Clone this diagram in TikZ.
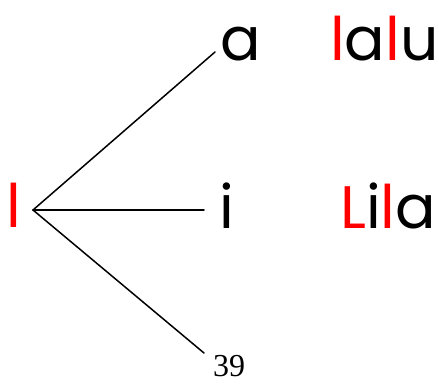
\documentclass[tikz,border=0pt]{standalone}
\usepackage{fontspec}
\setmainfont{Poppins}
\newfontfamily\numfont{Liberation Serif}
\begin{document}
\begin{tikzpicture}[x=1pt, y=-1pt, cap=round,
  word/.style={inner sep=0pt, anchor=base west, font=\fontsize{60}{60}\selectfont},
  num/.style={inner sep=0pt, text depth=0pt, anchor=base west, font=\numfont\fontsize{32}{32}\selectfont}]
\useasboundingbox (0,0) rectangle (439,383);
% Gốc cây
\node[word, text=red] (root) at (6,227) {l};
\coordinate (o) at (33,210);
% Các nhánh
\coordinate (ea) at (215,52);
\coordinate (ei) at (204,210);
\coordinate (en) at (204,353);
\node[word] (a) at (220,60) {a};
\node[word] (i) at (219,228) {i};
\node[num] (n) at (213,376) {39};
\draw[line width=1.5pt] (o) -- (ea);
\draw[line width=1.5pt] (o) -- (ei);
\draw[line width=1.5pt] (o) -- (en);
% Các từ bên phải
\node[word] (w1) at (330,60) {\textcolor{red}{l}a\textcolor{red}{l}u};
\node[word] (w2) at (340,228) {\textcolor{red}{L}i\textcolor{red}{l}a};
\end{tikzpicture}
\end{document}
